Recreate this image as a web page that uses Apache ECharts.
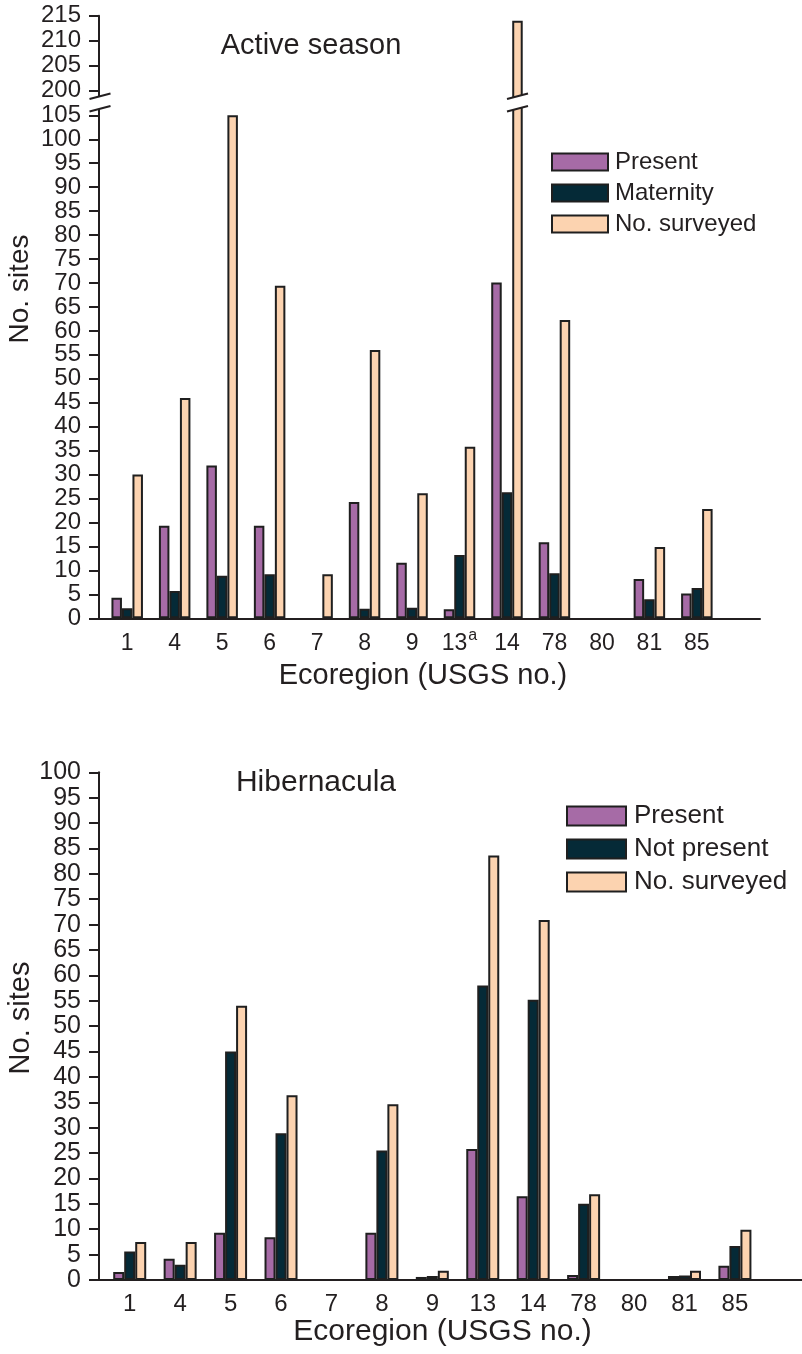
<!DOCTYPE html>
<html><head><meta charset="utf-8">
<script src="https://cdn.jsdelivr.net/npm/echarts@6/dist/echarts.min.js"></script>
<style>html,body{margin:0;padding:0;background:#fff}#c{width:802px;height:1354px}</style>
</head><body><div id="c"></div>
<script>
// ---------- data ----------
const categories = ['1','4','5','6','7','8','9','13','14','78','80','81','85'];
const activeNotes = {'13': 'a'};
const activePresent   = [4.3, 19.3, 31.9, 19.3, 0, 24.3, 11.6, 1.9, 70.1, 15.9, 0, 8.2, 5.2];
const activeMaternity = [2.1, 5.7, 8.9, 9.2, 0, 2.0, 2.2, 13.2, 26.3, 9.4, 0, 4.0, 6.3];
const activeSurveyed  = [30, 46, 105, 69.4, 9.2, 56, 26.1, 35.8, 214, 62.3, 0, 14.9, 22.8];
const hibPresent    = [1.6, 4.2, 9.3, 8.4, 0, 9.3, 0.6, 25.8, 16.5, 1.0, 0, 0.8, 2.8];
const hibNotPresent = [5.6, 3.0, 45, 28.9, 0, 25.5, 0.8, 58, 55.2, 15.0, 0, 0.9, 6.7];
const hibSurveyed   = [7.5, 7.5, 54, 36.4, 0, 34.6, 1.8, 83.6, 70.9, 16.9, 0, 1.8, 9.9];
const activeTicksLow  = [0,5,10,15,20,25,30,35,40,45,50,55,60,65,70,75,80,85,90,95,100,105];
const activeTicksHigh = [200,205,210,215];
const hibTicks = [0,5,10,15,20,25,30,35,40,45,50,55,60,65,70,75,80,85,90,95,100];
const breakLow = 106.95, breakHigh = 198.34;

// ---------- style ----------
const FONT = "'Liberation Sans', Arial, Helvetica, sans-serif";
const INK = '#231f20';
const C_PURPLE = '#a66ba6', C_DARK = '#052a37', C_PEACH = '#fcd3b0';
const BORDER = '#1f1f1f';

const chart = echarts.init(document.getElementById('c'), null, {renderer: 'canvas'});
const idx = categories.map((_, i) => i);
const pairs = arr => arr.map((v, i) => v > 0 ? [i, v] : [i, '-']);
const onlyAbove = (arr, lim) => arr.map((v, i) => v >= lim ? [i, v] : [i, '-']);
const none = arr => arr.map((v, i) => [i, '-']);

function yAx(gi, min, max, ticks, fs) {
  return {
    type: 'value', gridIndex: gi, min: min, max: max,
    axisLine: {show: true, onZero: false, lineStyle: {color: INK, width: 2}},
    axisTick: {show: true, length: 10, lineStyle: {color: INK, width: 2}, customValues: ticks},
    axisLabel: {customValues: ticks, color: INK, fontSize: fs, fontFamily: FONT, margin: 18},
    splitLine: {show: false}
  };
}
function xAx(gi, min, max, show, fs, notes, name, nameFs, nameGap, namePad, lblMargin) {
  const LH = fs + 10;
  return {
    type: 'value', gridIndex: gi, min: min, max: max, show: show,
    axisLine: {show: true, onZero: false, lineStyle: {color: INK, width: 2}},
    axisTick: {show: false},
    splitLine: {show: false},
    axisLabel: {
      customValues: idx, color: INK, fontFamily: FONT, margin: lblMargin,
      formatter: v => {
        const c = categories[v];
        return '{n|' + c + '}' + ((notes && notes[c]) ? '{sup|' + notes[c] + '}' : '');
      },
      rich: {
        n: {fontSize: fs, lineHeight: LH, fontFamily: FONT, color: INK},
        sup: {fontSize: 16, lineHeight: 16, fontFamily: FONT, color: INK, padding: [0, 0, LH - 16, 1]}
      }
    },
    name: name, nameLocation: 'middle', nameGap: nameGap,
    nameTextStyle: {color: INK, fontSize: nameFs, fontFamily: FONT, padding: namePad}
  };
}
function bar(name, xi, yi, data, color, w) {
  return {
    type: 'bar', name: name, xAxisIndex: xi, yAxisIndex: yi, data: data,
    barWidth: w, barGap: '0%', clip: true, animation: false,
    itemStyle: {color: color, borderColor: BORDER, borderWidth: 2}
  };
}

const TOP_BW = 10.5, BOT_BW = 11;
const option = {
  backgroundColor: '#fff',
  animation: false,
  textStyle: {fontFamily: FONT},
  grid: [
    {left: 99, width: 661, top: 15.7, height: 83.3},
    {left: 99, width: 661, top: 106, height: 512.3},
    {left: 99, width: 703, top: 772.3, height: 507.7}
  ],
  xAxis: [
    xAx(0, -0.594, 13.33, false, 23, null, '', 28, 40, 0, 15),
    xAx(1, -0.594, 13.33, true, 23, activeNotes, 'Ecoregion (USGS no.)', 29, 38, [0, 13, 0, 0], 9),
    xAx(2, -0.609, 13.33, true, 24, null, 'Ecoregion (USGS no.)', 30, 35, [0, 16, 0, 0], 7)
  ],
  yAxis: [
    yAx(0, breakHigh, 215, activeTicksHigh, 24),
    yAx(1, 0, breakLow, activeTicksLow, 24),
    yAx(2, 0, 100, hibTicks, 25)
  ],
  legend: [
    {orient: 'vertical', left: 551, top: 150, padding: 0, itemWidth: 56, itemHeight: 17, itemGap: 7, icon: 'rect',
     data: ['Present', 'Maternity', 'No. surveyed'], selectedMode: false,
     itemStyle: {borderColor: BORDER, borderWidth: 2},
     textStyle: {color: INK, fontSize: 24, fontFamily: FONT, padding: [0, 0, 0, 2]}},
    {orient: 'vertical', left: 566, top: 803, padding: 0, itemWidth: 59, itemHeight: 19, itemGap: 7, icon: 'rect',
     data: ['Present', 'Not present', 'No. surveyed'], selectedMode: false,
     itemStyle: {borderColor: BORDER, borderWidth: 2},
     textStyle: {color: INK, fontSize: 26, fontFamily: FONT, padding: [0, 0, 0, 3]}}
  ],
  series: [
    bar('Present', 0, 0, none(activePresent), C_PURPLE, TOP_BW),
    bar('Maternity', 0, 0, none(activeMaternity), C_DARK, TOP_BW),
    bar('No. surveyed', 0, 0, onlyAbove(activeSurveyed, breakHigh), C_PEACH, TOP_BW),
    bar('Present', 1, 1, pairs(activePresent), C_PURPLE, TOP_BW),
    bar('Maternity', 1, 1, pairs(activeMaternity), C_DARK, TOP_BW),
    bar('No. surveyed', 1, 1, pairs(activeSurveyed), C_PEACH, TOP_BW),
    bar('Present', 2, 2, pairs(hibPresent), C_PURPLE, BOT_BW),
    bar('Not present', 2, 2, pairs(hibNotPresent), C_DARK, BOT_BW),
    bar('No. surveyed', 2, 2, pairs(hibSurveyed), C_PEACH, BOT_BW)
  ],
  graphic: [
    {type: 'text', x: 311, y: 46, style: {text: 'Active season', fontSize: 29, fontFamily: FONT, fill: INK, align: 'center', verticalAlign: 'middle'}},
    {type: 'text', x: 316, y: 783, style: {text: 'Hibernacula', fontSize: 30, fontFamily: FONT, fill: INK, align: 'center', verticalAlign: 'middle'}},
    {type: 'text', x: 20, y: 289, rotation: Math.PI / 2, style: {text: 'No. sites', fontSize: 28, fontFamily: FONT, fill: INK, align: 'center', verticalAlign: 'middle'}},
    {type: 'text', x: 21, y: 1018, rotation: Math.PI / 2, style: {text: 'No. sites', fontSize: 29, fontFamily: FONT, fill: INK, align: 'center', verticalAlign: 'middle'}}
  ]
};
chart.setOption(option);

// axis-break marks, positioned through the library's own scales
const yTopEnd = chart.convertToPixel({yAxisIndex: 0}, breakHigh);
const yLowEnd = chart.convertToPixel({yAxisIndex: 1}, breakLow);
const mid = (yTopEnd + yLowEnd) / 2;
const s1 = mid - 6.25, s2 = mid + 6.25;
const axisX = chart.convertToPixel({xAxisIndex: 1}, -0.594) + 1;
const bigIdx = activeSurveyed.findIndex(v => v >= breakHigh);
const barX = chart.convertToPixel({xAxisIndex: 1}, bigIdx) + TOP_BW;
function breakMark(cx) {
  const hx = 10.5, hy = 2.7;
  return [
    {type: 'polygon', z: 100, shape: {points: [[cx - hx, s1 + hy], [cx + hx, s1 - hy], [cx + hx, s2 - hy], [cx - hx, s2 + hy]]}, style: {fill: '#fff'}},
    {type: 'line', z: 101, shape: {x1: cx - hx, y1: s1 + hy, x2: cx + hx, y2: s1 - hy}, style: {stroke: INK, lineWidth: 2}},
    {type: 'line', z: 101, shape: {x1: cx - hx, y1: s2 + hy, x2: cx + hx, y2: s2 - hy}, style: {stroke: INK, lineWidth: 2}}
  ];
}
chart.setOption({graphic: option.graphic.concat(breakMark(axisX), breakMark(barX))});
</script>
</body></html>
